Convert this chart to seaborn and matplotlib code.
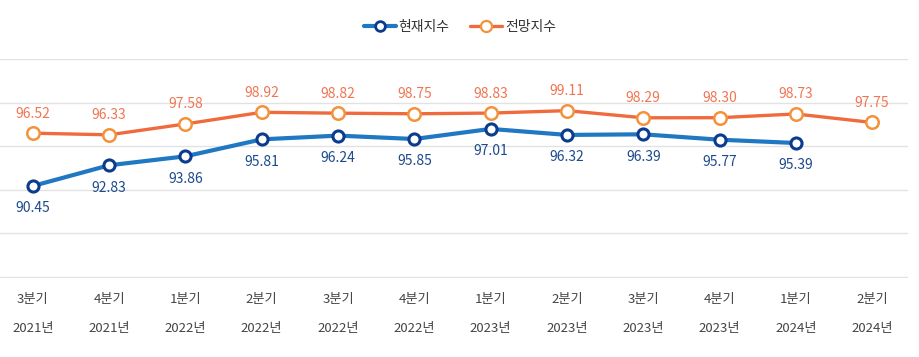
import numpy as np
import pandas as pd
import seaborn as sns
import matplotlib.pyplot as plt
from matplotlib.lines import Line2D

# dati
quarters = ['3분기', '4분기', '1분기', '2분기', '3분기', '4분기',
            '1분기', '2분기', '3분기', '4분기', '1분기', '2분기']
years = ['2021년', '2021년', '2022년', '2022년', '2022년', '2022년',
         '2023년', '2023년', '2023년', '2023년', '2024년', '2024년']
current_idx = [90.45, 92.83, 93.86, 95.81, 96.24, 95.85,
               97.01, 96.32, 96.39, 95.77, 95.39, np.nan]
outlook_idx = [96.52, 96.33, 97.58, 98.92, 98.82, 98.75,
               98.83, 99.11, 98.29, 98.30, 98.73, 97.75]

df = pd.DataFrame({
    'pos': np.arange(len(quarters)),
    '현재지수': current_idx,
    '전망지수': outlook_idx,
})

sns.set_style('white')
plt.rcParams['font.family'] = ['Noto Sans CJK KR', 'DejaVu Sans']

blue_line = '#1f78c1'
blue_edge = '#0b3b8c'
blue_text = '#1c4a8c'
orange_line = '#ef6b3d'
orange_edge = '#f4923c'
orange_text = '#f07552'

fig = plt.figure(figsize=(9.2, 3.57), dpi=100)
ax = fig.add_axes([0.0, 0.222, 0.987, 0.614])

sns.lineplot(data=df, x='pos', y='전망지수', ax=ax, color=orange_line, lw=2.4,
             marker='o', markersize=9, markerfacecolor='white',
             markeredgecolor=orange_edge, markeredgewidth=1.8, zorder=3)
sns.lineplot(data=df.dropna(), x='pos', y='현재지수', ax=ax, color=blue_line, lw=3.0,
             marker='o', markersize=8, markerfacecolor='white',
             markeredgecolor=blue_edge, markeredgewidth=2.2, zorder=4)

# etichette valori
for i, v in enumerate(outlook_idx):
    ax.annotate(f'{v:.2f}', (i, v), xytext=(0, 9), textcoords='offset points',
                ha='center', va='bottom', fontsize=10, color=orange_text)
for i, v in enumerate(current_idx):
    if np.isnan(v):
        continue
    ax.annotate(f'{v:.2f}', (i, v), xytext=(0, -11), textcoords='offset points',
                ha='center', va='top', fontsize=10, color=blue_text)

ax.set_ylim(79.9, 105.1)
ax.set_yticks([80, 85, 90, 95, 100, 105])
ax.set_yticklabels([])
ax.set_xlim(-0.43, 11.47)
ax.set_xticks(df['pos'])
ax.set_xticklabels([f'{q}\n{y}' for q, y in zip(quarters, years)],
                   fontsize=9.5, color='#444444', linespacing=2.55)
ax.tick_params(axis='x', length=0, pad=11)
ax.tick_params(axis='y', length=0)
ax.grid(axis='y', color='#e2e2e2', lw=1)
ax.set_xlabel('')
ax.set_ylabel('')
sns.despine(ax=ax, left=True, top=True, right=True, bottom=True)

handles = [
    Line2D([], [], color=blue_line, lw=3.0, marker='o', markersize=7,
           markerfacecolor='white', markeredgecolor=blue_edge, markeredgewidth=2),
    Line2D([], [], color=orange_line, lw=2.4, marker='o', markersize=8,
           markerfacecolor='white', markeredgecolor=orange_edge, markeredgewidth=1.6),
]
fig.legend(handles, ['현재지수', '전망지수'], loc='center', bbox_to_anchor=(0.5, 0.925),
           ncol=2, frameon=False, fontsize=10, handlelength=2.3, handletextpad=0.2,
           columnspacing=1.5, labelcolor='#333333')

fig.savefig('out.png', dpi=100)
